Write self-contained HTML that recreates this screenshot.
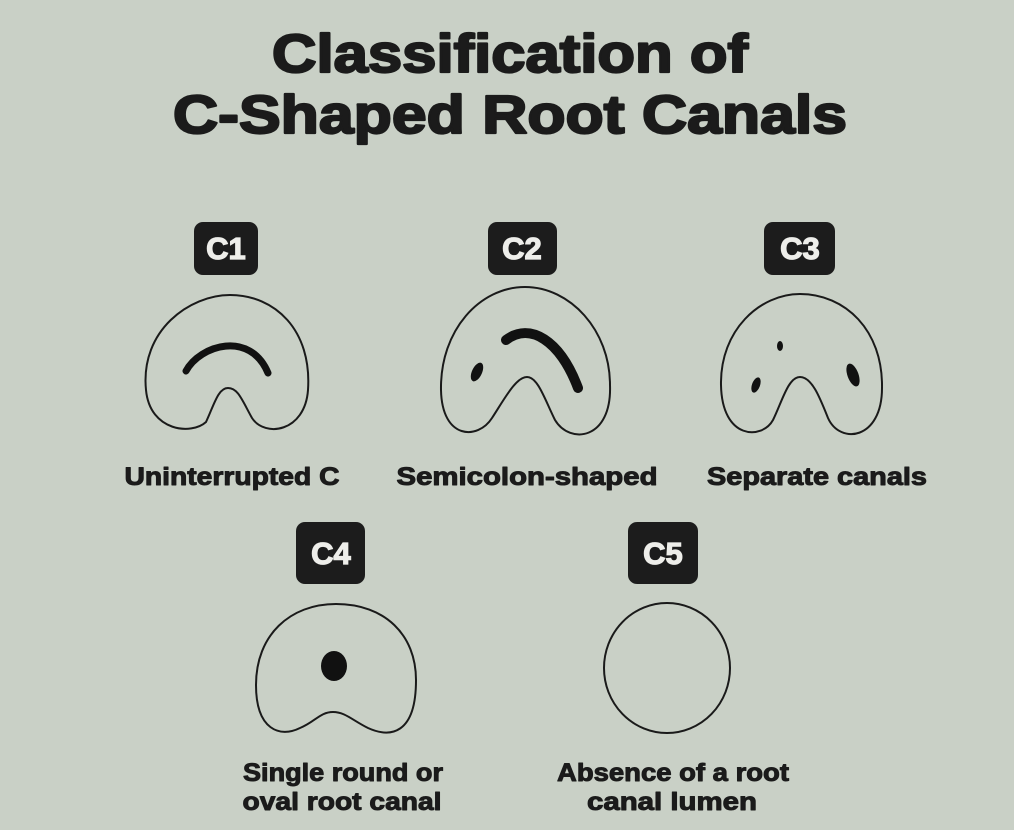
<!DOCTYPE html>
<html><head><meta charset="utf-8"><style>
html,body{margin:0;padding:0;background:#c9d0c6;}
svg{display:block;}
text{font-family:"Liberation Sans",sans-serif;font-weight:bold;fill:#1b1b1b;}
</style></head><body>
<svg width="1014" height="830" viewBox="0 0 1014 830" xmlns="http://www.w3.org/2000/svg">
<rect width="1014" height="830" fill="#c9d0c6"/>
<g stroke="#1b1b1b" stroke-width="2.2" stroke-linejoin="round">
<text x="510" y="72" font-size="54" text-anchor="middle" textLength="476" lengthAdjust="spacingAndGlyphs">Classification of</text>
<text x="510" y="133" font-size="54" text-anchor="middle" textLength="674" lengthAdjust="spacingAndGlyphs">C-Shaped Root Canals</text>
</g>

<g fill="#1c1c1c">
<rect x="194" y="222" width="64" height="53" rx="9"/>
<rect x="488" y="222" width="69" height="53" rx="9"/>
<rect x="764" y="222" width="71" height="53" rx="9"/>
<rect x="296" y="522" width="69" height="62" rx="9"/>
<rect x="628" y="522" width="70" height="62" rx="9"/>
</g>
<g font-size="31" text-anchor="middle" stroke="#eeeeea" stroke-width="1.2">
<text x="226" y="259" style="fill:#eeeeea">C1</text>
<text x="522" y="259" style="fill:#eeeeea">C2</text>
<text x="800" y="259" style="fill:#eeeeea">C3</text>
<text x="331" y="564" style="fill:#eeeeea">C4</text>
<text x="663" y="564" style="fill:#eeeeea">C5</text>
</g>

<g fill="none" stroke="#1a1a1a" stroke-width="2">
<path d="M206 422 C192 435 150 432 146 390 C140 330 190 295 230 295 C275 295 312 330 308 390 C305 432 265 438 252 418 C242 400 238 388 228 388 C218 388 214 405 206 422 Z"/>
<path d="M492 418 C478 440 442 440 441 390 C440 330 480 287 525 287 C570 287 610 330 610 385 C612 440 570 445 555 420 C545 400 538 377 527 377 C516 377 505 398 492 418 Z"/>
<path d="M773 420 C762 440 722 440 721 385 C720 330 760 294 800 294 C845 294 883 330 882 388 C882 440 840 445 828 418 C820 398 812 377 800 377 C788 377 782 402 773 420 Z"/>
<path d="M300 728 C280 738 256 730 256 685 C256 635 290 604 336 604 C385 604 416 635 416 680 C416 735 390 738 368 728 C352 720 345 712 333 712 C320 712 315 722 300 728 Z"/>
<ellipse cx="667" cy="668" rx="63" ry="65"/>
</g>
<g fill="#111" stroke="#111" stroke-linecap="round">
<path d="M186 371 C200 345 250 330 268 373" fill="none" stroke-width="7"/>
<path d="M506 340 C530 322 560 340 578 388" fill="none" stroke-width="10"/>
<ellipse cx="477" cy="372" rx="5" ry="10" transform="rotate(25 477 372)" stroke="none"/>
<ellipse cx="780" cy="346" rx="3" ry="5" stroke="none"/>
<ellipse cx="756" cy="385" rx="4" ry="8" transform="rotate(20 756 385)" stroke="none"/>
<ellipse cx="853" cy="375" rx="5.5" ry="12" transform="rotate(-20 853 375)" stroke="none"/>
<ellipse cx="334" cy="666" rx="13" ry="15" stroke="none"/>
</g>

<g font-size="25" text-anchor="middle" stroke="#1b1b1b" stroke-width="1" stroke-linejoin="round">
<text x="232" y="485" textLength="215" lengthAdjust="spacingAndGlyphs">Uninterrupted C</text>
<text x="527" y="485" textLength="261" lengthAdjust="spacingAndGlyphs">Semicolon-shaped</text>
<text x="817" y="485" textLength="220" lengthAdjust="spacingAndGlyphs">Separate canals</text>
<text x="343" y="781" textLength="200" lengthAdjust="spacingAndGlyphs">Single round or</text>
<text x="342" y="810" textLength="199" lengthAdjust="spacingAndGlyphs">oval root canal</text>
<text x="673" y="781" textLength="232" lengthAdjust="spacingAndGlyphs">Absence of a root</text>
<text x="672" y="810" textLength="170" lengthAdjust="spacingAndGlyphs">canal lumen</text>
</g>
</svg>
</body></html>
